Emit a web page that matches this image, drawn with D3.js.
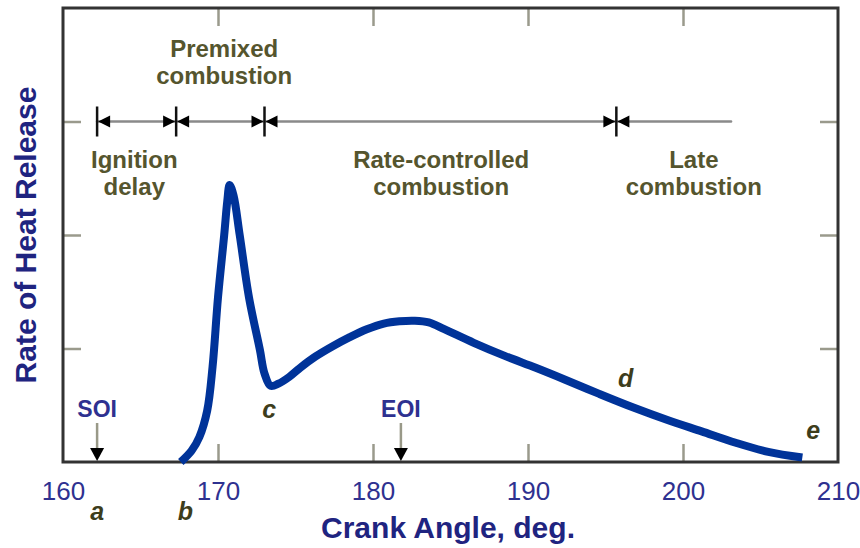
<!DOCTYPE html>
<html>
<head>
<meta charset="utf-8">
<script src="https://cdn.jsdelivr.net/npm/d3@7/dist/d3.min.js"></script>
<style>
  body { margin: 0; background: #fff; }
  svg { display: block; font-family: "Liberation Sans", Arial, sans-serif; }
</style>
</head>
<body>
<svg id="chart" width="860" height="548"></svg>
<script>
// crank angle (deg) and heat release rate (arbitrary units)
var angle = [167.6, 168.3, 168.8, 169.3, 169.65, 170.0, 170.4, 170.6, 170.75, 171.0, 171.4, 172.0, 172.7, 173.0,
             173.4, 173.9, 174.6, 175.3, 176.3, 177.4, 178.5, 179.6, 180.7, 181.7, 182.7, 183.6, 184.6, 186.5,
             188.5, 190.5, 192.4, 194.6, 196.8, 199.0, 201.2, 203.4, 205.5, 207.7];
var hrr   = [0.0, 0.1, 0.22, 0.45, 0.84, 1.45, 2.0, 2.3, 2.44, 2.35, 2.0, 1.45, 0.99, 0.78,
             0.67, 0.69, 0.75, 0.83, 0.93, 1.02, 1.10, 1.17, 1.22, 1.24, 1.245, 1.23, 1.17, 1.05,
             0.935, 0.83, 0.725, 0.6, 0.48, 0.37, 0.27, 0.17, 0.09, 0.04];

var xTickLabels = [160, 170, 180, 190, 200, 210];
var xInnerTicks = [170, 180, 190, 200];
var yInnerTicks = [1, 2, 3];

// combustion phase boundaries on the timeline
var phaseBounds = [162.2, 167.3, 173.0, 195.7];
var phaseLineEnd = 203.1;
var phaseLevel = 3;
var phaseNames = [
  {x: 164.6, lines: ["Ignition", "delay"], below: true},
  {x: 170.4, lines: ["Premixed", "combustion"], below: false},
  {x: 184.4, lines: ["Rate-controlled", "combustion"], below: true},
  {x: 200.7, lines: ["Late", "combustion"], below: true}
];

// injection markers
var injection = [{x: 162.2, label: "SOI"}, {x: 181.8, label: "EOI"}];

// point letters
var letters = [
  {x: 162.2, v: null, label: "a"},
  {x: 167.9, v: null, label: "b"},
  {x: 173.3, v: 0.39, label: "c"},
  {x: 196.3, v: 0.66, label: "d"},
  {x: 208.4, v: 0.2, label: "e"}
];

var svg = d3.select("#chart");
var mLeft = 63, mRight = 838, mTop = 8, mBottom = 462;

var x = d3.scaleLinear().domain([160, 210]).range([mLeft, mRight]);
var y = d3.scaleLinear().domain([0, 4]).range([mBottom, mTop]);

var tickColor = "#9a9a8c";

// inner ticks on all four sides
svg.append("g").attr("transform", "translate(0," + mBottom + ")")
  .call(d3.axisBottom(x).tickValues(xInnerTicks).tickSize(-18).tickFormat(""))
  .call(g => g.select(".domain").remove())
  .selectAll("line").attr("stroke", tickColor).attr("stroke-width", 2.5);
svg.append("g").attr("transform", "translate(0," + mTop + ")")
  .call(d3.axisTop(x).tickValues(xInnerTicks).tickSize(-18).tickFormat(""))
  .call(g => g.select(".domain").remove())
  .selectAll("line").attr("stroke", tickColor).attr("stroke-width", 2.5);
svg.append("g").attr("transform", "translate(" + mLeft + ",0)")
  .call(d3.axisLeft(y).tickValues(yInnerTicks).tickSize(-18).tickFormat(""))
  .call(g => g.select(".domain").remove())
  .selectAll("line").attr("stroke", tickColor).attr("stroke-width", 2.5);
svg.append("g").attr("transform", "translate(" + mRight + ",0)")
  .call(d3.axisRight(y).tickValues(yInnerTicks).tickSize(-18).tickFormat(""))
  .call(g => g.select(".domain").remove())
  .selectAll("line").attr("stroke", tickColor).attr("stroke-width", 2.5);

// tick labels
var xAxis = svg.append("g").attr("transform", "translate(0," + mBottom + ")")
  .call(d3.axisBottom(x).tickValues(xTickLabels).tickSize(0).tickPadding(20).tickFormat(d3.format("d")));
xAxis.select(".domain").remove();
xAxis.selectAll("text")
  .attr("font-family", "Liberation Sans, Arial, sans-serif")
  .attr("font-size", 26).attr("fill", "#2e3190");

// frame
svg.append("rect")
  .attr("x", mLeft).attr("y", mTop)
  .attr("width", mRight - mLeft).attr("height", mBottom - mTop)
  .attr("fill", "none").attr("stroke", "#333").attr("stroke-width", 3);

// phase timeline
var ty = y(phaseLevel);
svg.append("line")
  .attr("x1", x(phaseBounds[0])).attr("x2", x(phaseLineEnd))
  .attr("y1", ty).attr("y2", ty)
  .attr("stroke", "#8a8a8a").attr("stroke-width", 2.5).attr("stroke-linecap", "round");

var bounds = svg.append("g").selectAll("g").data(phaseBounds).join("g")
  .attr("transform", d => "translate(" + x(d) + "," + ty + ")");
bounds.append("line").attr("y1", -15).attr("y2", 15).attr("stroke", "#111").attr("stroke-width", 2.5);
bounds.append("path")
  .attr("d", "M1,0 L13,-6 L13,6 Z").attr("fill", "#000");
bounds.filter((d, i) => i > 0).append("path")
  .attr("d", "M-1,0 L-13,-6 L-13,6 Z").attr("fill", "#000");

var olive = "#55552e";
phaseNames.forEach(function(p) {
  var t = svg.append("text")
    .attr("text-anchor", "middle")
    .attr("font-size", 24).attr("font-weight", "bold").attr("fill", olive);
  var base = p.below ? 168 : 57;
  p.lines.forEach(function(s, i) {
    t.append("tspan").attr("x", x(p.x)).attr("y", base + i * 27).text(s);
  });
});

// SOI / EOI arrows
var inj = svg.append("g").selectAll("g").data(injection).join("g")
  .attr("transform", d => "translate(" + x(d.x) + "," + mBottom + ")");
inj.append("line").attr("y1", -39).attr("y2", -12).attr("stroke", "#999988").attr("stroke-width", 2.5);
inj.append("path").attr("d", "M0,-1 L-7,-14 L7,-14 Z").attr("fill", "#000");
inj.append("text")
  .attr("y", -45).attr("text-anchor", "middle")
  .attr("font-size", 23).attr("font-weight", "bold").attr("fill", "#2e3190")
  .text(d => d.label);

// heat release curve
var line = d3.line()
  .x((d, i) => x(angle[i]))
  .y(d => y(d))
  .curve(d3.curveCatmullRom.alpha(0.5));
svg.append("path")
  .datum(hrr)
  .attr("d", line)
  .attr("fill", "none")
  .attr("stroke", "#003399")
  .attr("stroke-width", 8)
  .attr("stroke-linejoin", "round");

// point letters
svg.append("g").selectAll("text").data(letters).join("text")
  .attr("x", d => x(d.x))
  .attr("y", d => d.v === null ? 520 : y(d.v))
  .attr("text-anchor", "middle")
  .attr("font-size", 25).attr("font-weight", "bold").attr("font-style", "italic")
  .attr("fill", "#3d3d1c")
  .text(d => d.label);

// axis titles
svg.append("text")
  .attr("x", 448).attr("y", 538)
  .attr("text-anchor", "middle")
  .attr("font-size", 30).attr("font-weight", "bold").attr("fill", "#1f2480")
  .text("Crank Angle, deg.");
svg.append("text")
  .attr("transform", "translate(36,235) rotate(-90)")
  .attr("text-anchor", "middle")
  .attr("font-size", 30).attr("font-weight", "bold").attr("fill", "#1f2480")
  .text("Rate of Heat Release");
</script>
</body>
</html>
